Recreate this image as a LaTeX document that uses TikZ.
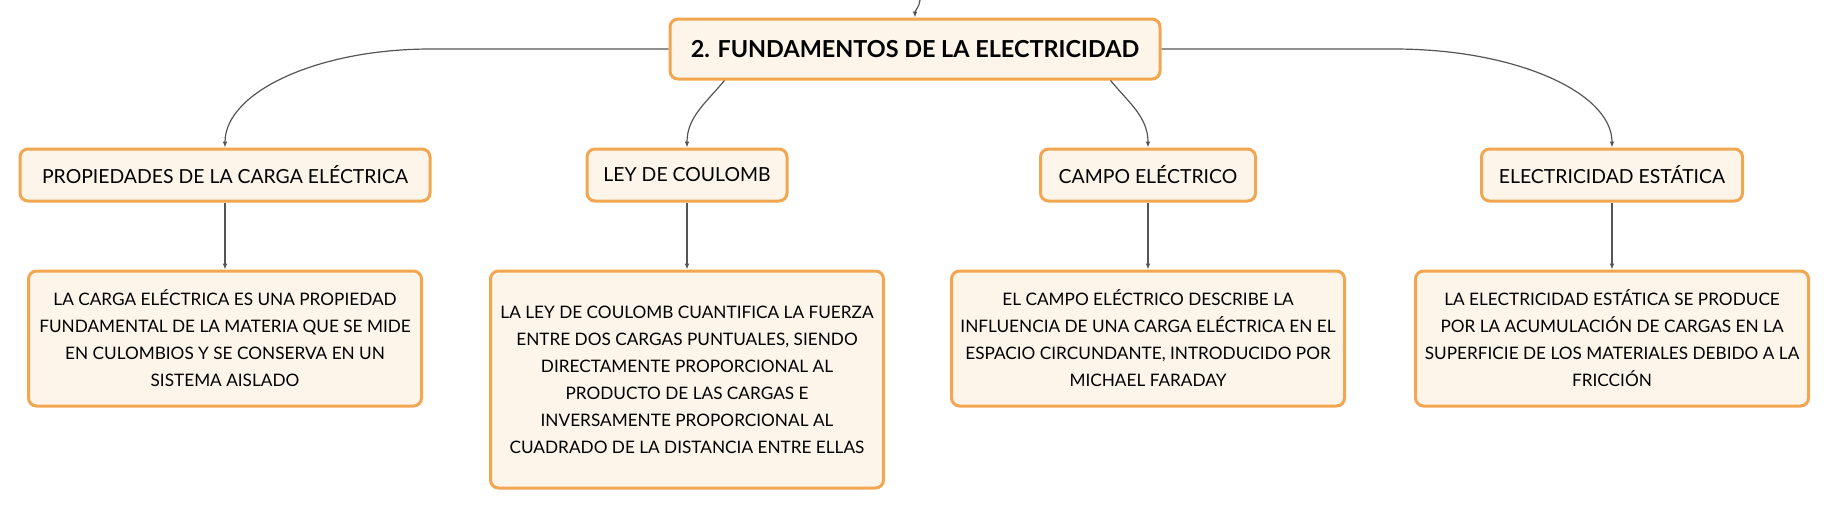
\documentclass[tikz,border=0pt]{standalone}
\usepackage{fontspec}
\setmainfont{Lato}
\usetikzlibrary{positioning,arrows.meta}
\definecolor{boxline}{HTML}{F2A650}
\definecolor{boxfill}{HTML}{FDF4EA}
\definecolor{linkgray}{HTML}{555555}

\begin{document}
\begin{tikzpicture}[
  x=0.5pt,y=-0.5pt,
  every node/.style={
    rectangle,
    rounded corners=4pt,
    fill=boxfill,
    draw=boxline, line width=1.5pt,
    inner sep=2pt,
    text centered,
    align=center,
    font=\fontsize{8.6}{13.5}\selectfont
  },
  title node/.style={minimum width=245pt, minimum height=30pt, font=\fontsize{11.7}{13}\selectfont\bfseries},
  topic node/.style={minimum height=26pt, font=\fontsize{9.7}{12}\selectfont},
  leaf node/.style={minimum width=196.5pt, minimum height=67.5pt},
  >={Latex[length=3pt,width=2.4pt]}, %tiny tips
  myline/.style={draw, linkgray, line width=0.6pt},
  westbend/.style={to path={-- ++(-238,0) .. controls +(-114,0) and +(0,-55) .. (\tikztotarget)}},
  eastbend/.style={to path={-- ++(233,0) .. controls +(121,0) and +(0,-55) .. (\tikztotarget)}}
  ]
\useasboundingbox (0,0) rectangle (1830,511);
\node[title node] (fund) at (915,49) {2. FUNDAMENTOS DE LA ELECTRICIDAD};
\coordinate (up) at (920,0);
\begin{scope}[every node/.append style={topic node}]
  \node[minimum width=205pt] (prop) at (225,175) {PROPIEDADES DE LA CARGA ELÉCTRICA};
  \node[minimum width=100pt] (coul) at (687,175) {LEY DE COULOMB};
  \node[minimum width=107.5pt] (campo) at (1148,175) {CAMPO ELÉCTRICO};
  \node[minimum width=130.5pt] (estat) at (1612,175) {ELECTRICIDAD ESTÁTICA};
\end{scope}
\begin{scope}[every node/.append style={leaf node}, node distance=33.5pt]
  \node[below=of prop] (propT) {LA CARGA ELÉCTRICA ES UNA PROPIEDAD\\FUNDAMENTAL DE LA MATERIA QUE SE MIDE\\EN CULOMBIOS Y SE CONSERVA EN UN\\SISTEMA AISLADO};
  \node[below=of coul, minimum height=108.5pt] (coulT) {LA LEY DE COULOMB CUANTIFICA LA FUERZA\\ENTRE DOS CARGAS PUNTUALES, SIENDO\\DIRECTAMENTE PROPORCIONAL AL\\PRODUCTO DE LAS CARGAS E\\INVERSAMENTE PROPORCIONAL AL\\CUADRADO DE LA DISTANCIA ENTRE ELLAS};
  \node[below=of campo] (campoT) {EL CAMPO ELÉCTRICO DESCRIBE LA\\INFLUENCIA DE UNA CARGA ELÉCTRICA EN EL\\ESPACIO CIRCUNDANTE, INTRODUCIDO POR\\MICHAEL FARADAY};
  \node[below=of estat] (estatT) {LA ELECTRICIDAD ESTÁTICA SE PRODUCE\\POR LA ACUMULACIÓN DE CARGAS EN LA\\SUPERFICIE DE LOS MATERIALES DEBIDO A LA\\FRICCIÓN};
\end{scope}
\path[myline] (up) edge[->, out=-95, in=90] (fund)
              {[westbend] (fund.west) edge[->] (prop.north)}
              ([xshift=28pt]fund.south west) edge[->, out=-130, in=90] (coul)
              ([xshift=-25.5pt]fund.south east) edge[->, out=-50, in=90] (campo)
              {[eastbend] (fund.east) edge[->] (estat.north)}
              (prop) edge[->] (propT)
              (coul) edge[->] (coulT)
              (campo) edge[->] (campoT)
              (estat) edge[->] (estatT);
\end{tikzpicture}
\end{document}
